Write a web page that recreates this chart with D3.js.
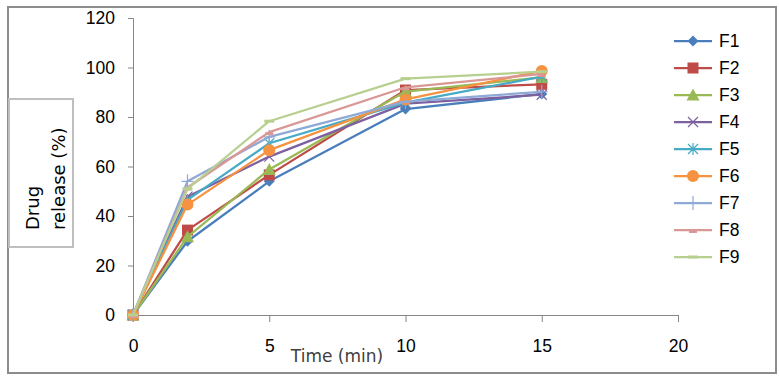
<!DOCTYPE html>
<html>
<head>
<meta charset="utf-8">
<script src="https://cdn.jsdelivr.net/npm/d3@7"></script>
<style>
  body { margin: 0; background: #fff; }
  svg { display: block; }
</style>
</head>
<body>
<svg id="chart" width="779" height="385"></svg>
<script>
// sampling times (min)
var times = [0, 2, 5, 10, 15];

var seriesNames = ["F1", "F2", "F3", "F4", "F5", "F6", "F7", "F8", "F9"];

// % drug released
var f1 = [0, 29.8, 54.0, 83.2, 89.3];
var f2 = [0, 34.3, 56.6, 90.9, 93.2];
var f3 = [0, 31.6, 58.8, 90.3, 96.0];
var f4 = [0, 47.8, 64.0, 85.4, 89.0];
var f5 = [0, 46.5, 69.4, 85.8, 96.3];
var f6 = [0, 44.6, 66.6, 87.1, 98.6];
var f7 = [0, 54.0, 72.0, 86.2, 90.2];
var f8 = [0, 51.5, 73.9, 92.0, 97.4];
var f9 = [0, 51.0, 78.3, 95.5, 98.3];
var seriesValues = [f1, f2, f3, f4, f5, f6, f7, f8, f9];

var xTicks = [0, 5, 10, 15, 20];
var yTicks = [0, 20, 40, 60, 80, 100, 120];

var colors = ["#4a7ebb", "#be4b48", "#98b954", "#7d60a0", "#46aac5",
              "#f69240", "#8fa9d6", "#d99795", "#b7cf8f"];
var markers = ["diamond", "square", "triangle", "x", "asterisk",
               "circle", "plus", "dash", "longdash"];

var svg = d3.select("#chart");

var x = d3.scaleLinear().domain([0, 20]).range([133, 678]);
var y = d3.scaleLinear().domain([0, 120]).range([315, 18]);

var tickFont = "'Liberation Sans', Arial, sans-serif";

// outer frame
svg.append("rect")
    .attr("x", 8).attr("y", 7)
    .attr("width", 768).attr("height", 366)
    .attr("fill", "#fff")
    .attr("stroke", "#8c8c8c")
    .attr("stroke-width", 2);

// y axis
var yAxis = svg.append("g")
    .attr("transform", "translate(" + x(0) + ",0)")
    .call(d3.axisLeft(y).tickValues(yTicks).tickSize(5).tickPadding(13));
yAxis.select(".domain").attr("stroke", "#868686");
yAxis.selectAll(".tick line").attr("stroke", "#868686");
yAxis.selectAll(".tick text")
    .attr("fill", "#000")
    .style("font-family", tickFont)
    .style("font-size", "17.5px");

// x axis
var xAxis = svg.append("g")
    .attr("transform", "translate(0," + y(0) + ")")
    .call(d3.axisBottom(x).tickValues(xTicks).tickSize(7).tickSizeOuter(0).tickPadding(18));
xAxis.select(".domain").attr("stroke", "#868686");
xAxis.selectAll(".tick line").attr("stroke", "#868686");
xAxis.selectAll(".tick text")
    .attr("fill", "#000")
    .style("font-family", tickFont)
    .style("font-size", "17.5px");

svg.append("text")
    .attr("x", 337).attr("y", 362)
    .attr("text-anchor", "middle")
    .attr("fill", "#404040")
    .style("font-family", "'DejaVu Sans', sans-serif")
    .style("font-size", "17px")
    .text("Time (min)");

// y title box
svg.append("rect")
    .attr("x", 9).attr("y", 99)
    .attr("width", 64).attr("height", 148)
    .attr("fill", "#fff")
    .attr("stroke", "#bfbfbf")
    .attr("stroke-width", 2);

var yTitle = svg.append("text")
    .attr("transform", "translate(39,230) rotate(-90)")
    .attr("fill", "#000")
    .style("font-family", "'DejaVu Sans', sans-serif")
    .style("font-size", "18px");
yTitle.append("tspan").attr("x", 0).attr("y", 0).text("Drug");
yTitle.append("tspan").attr("x", 0).attr("y", 26).text("release (%)");

function drawMarker(g, type, color) {
  var s = 5.5;
  if (type == "diamond") {
    g.append("path").attr("d", "M0,-" + s + "L" + s + ",0L0," + s + "L-" + s + ",0Z").attr("fill", color);
  } else if (type == "square") {
    g.append("rect").attr("x", -s).attr("y", -s).attr("width", 2 * s).attr("height", 2 * s).attr("fill", color);
  } else if (type == "triangle") {
    g.append("path").attr("d", "M0,-6.5L6.5,5.5L-6.5,5.5Z").attr("fill", color);
  } else if (type == "circle") {
    g.append("circle").attr("r", 6).attr("fill", color);
  } else if (type == "x") {
    g.append("path").attr("d", "M-5,-5L5,5M-5,5L5,-5").attr("stroke", color).attr("stroke-width", 1.2);
  } else if (type == "asterisk") {
    g.append("path").attr("d", "M-5,-5L5,5M-5,5L5,-5M0,-6L0,6").attr("stroke", color).attr("stroke-width", 1.2);
  } else if (type == "plus") {
    g.append("path").attr("d", "M-6,0L6,0M0,-7L0,7").attr("stroke", color).attr("stroke-width", 1.2);
  } else if (type == "dash") {
    g.append("rect").attr("x", -4).attr("y", 0).attr("width", 8).attr("height", 3).attr("fill", color);
  } else if (type == "longdash") {
    g.append("rect").attr("x", -5).attr("y", -1.5).attr("width", 10).attr("height", 3).attr("fill", color);
  }
}

var line = d3.line()
    .x(function(d, i) { return x(times[i]); })
    .y(function(d) { return y(d); });

seriesValues.forEach(function(vals, k) {
  var g = svg.append("g");
  g.append("path")
      .attr("d", line(vals))
      .attr("fill", "none")
      .attr("stroke", colors[k])
      .attr("stroke-width", 2.25)
      .attr("stroke-linejoin", "round");
  vals.forEach(function(v, i) {
    var m = g.append("g").attr("transform", "translate(" + x(times[i]) + "," + y(v) + ")");
    drawMarker(m, markers[k], colors[k]);
  });
});

// legend
var legend = svg.append("g");
seriesNames.forEach(function(name, k) {
  var ly = 41 + k * 27;
  legend.append("line")
      .attr("x1", 674).attr("x2", 712)
      .attr("y1", ly).attr("y2", ly)
      .attr("stroke", colors[k])
      .attr("stroke-width", 2.25);
  var m = legend.append("g").attr("transform", "translate(693," + ly + ")");
  drawMarker(m, markers[k], colors[k]);
  legend.append("text")
      .attr("x", 719).attr("y", ly + 6)
      .attr("fill", "#000")
      .style("font-family", tickFont)
      .style("font-size", "17.5px")
      .text(name);
});
</script>
</body>
</html>
